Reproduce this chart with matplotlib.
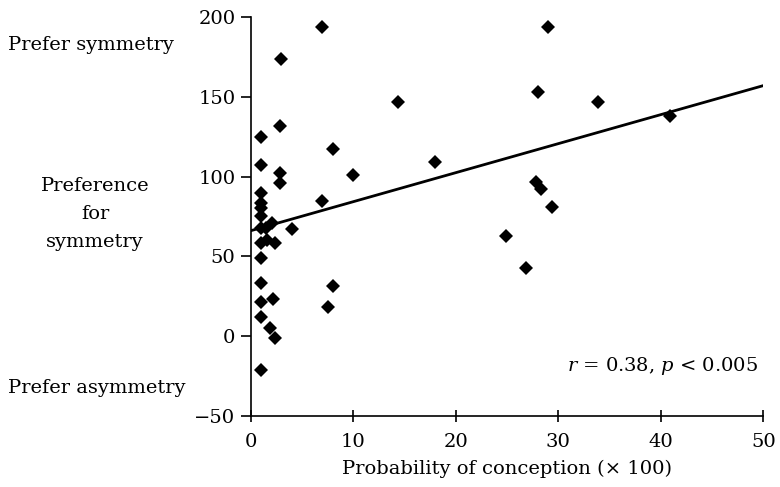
import numpy as np
import matplotlib.pyplot as plt

# probability of conception (x 100) vs preference for symmetry
prob = [7.0, 3.0, 2.9, 1.0, 1.0, 8.0, 2.9, 2.9, 10.0, 1.0, 1.0, 1.0, 1.0,
        7.0, 2.1, 1.0, 1.5, 4.0, 1.0, 1.6, 2.4, 1.0, 1.0, 8.0, 1.0, 2.2,
        7.5, 1.0, 1.9, 2.4, 1.0,
        29.0, 28.0, 14.4, 33.9, 40.9, 18.0, 27.8, 28.3, 29.4, 24.9, 26.9]
pref = [194, 174, 131.5, 125, 107.5, 117, 102.5, 96, 101, 89.5, 83.5, 80, 75.5,
        84.5, 71, 67.5, 67.5, 67, 58.5, 60, 58.5, 49, 33, 31.5, 21.5, 23,
        18, 12, 5, -1.5, -21.5,
        194, 153, 147, 146.5, 138, 109, 96.5, 92, 81, 62.5, 42.5]

fit_x = [0, 50]
fit_y = [66, 157]

plt.rcParams['font.family'] = ['DejaVu Serif']
plt.rcParams['mathtext.fontset'] = 'dejavuserif'
plt.rcParams['font.size'] = 14

fig = plt.figure(figsize=(7.8, 4.87), dpi=100)
ax = fig.add_axes([0.3214, 0.1464, 0.6572, 0.8186])

ax.plot(fit_x, fit_y, color='black', lw=2, zorder=2)
ax.plot(prob, pref, 'D', color='black', ms=7, mew=0, zorder=3)

ax.set_xlim(0, 50)
ax.set_ylim(-50, 200)
ax.set_xticks(range(0, 51, 10))
ax.set_yticks(range(-50, 201, 50))
for s in ['top', 'right']:
    ax.spines[s].set_visible(False)
for s in ['left', 'bottom']:
    ax.spines[s].set_linewidth(1.2)
ax.tick_params(axis='y', direction='out', length=7, width=1.2, pad=4)
ax.tick_params(axis='x', direction='inout', length=9, width=1.2, pad=8)
ax.set_xlabel('Probability of conception (× 100)', labelpad=6)

ax.text(49.5, -19, r'$r$ = 0.38, $p$ < 0.005', ha='right', va='center')

fig.text(0.01, 0.907, 'Prefer symmetry', ha='left', va='center')
fig.text(0.122, 0.56, 'Preference\nfor\nsymmetry', ha='center', va='center',
         linespacing=1.7)
fig.text(0.01, 0.203, 'Prefer asymmetry', ha='left', va='center')

fig.savefig('out.png', dpi=100)
